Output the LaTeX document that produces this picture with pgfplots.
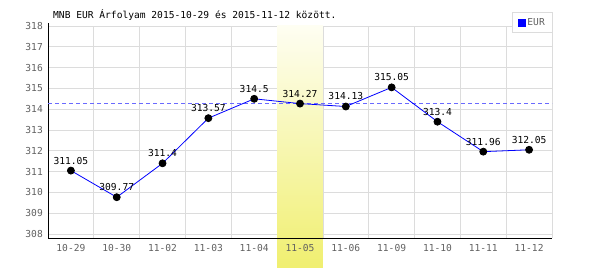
\documentclass[border=0pt]{standalone}
\usepackage{pgfplots}
\pgfplotsset{compat=1.18}
\usepackage{pgfplotstable}
\usepackage{fontspec}
\setmainfont{DejaVu Sans Mono}
\definecolor{gridc}{HTML}{DCDCDC}
\definecolor{tickc}{HTML}{606060}
\definecolor{bandtop}{HTML}{FEFEF2}
\definecolor{bandbot}{HTML}{F0EF70}
\definecolor{dashc}{HTML}{6A6AFF}
\definecolor{linec}{HTML}{0000FF}

\pgfplotstableread{
x y lab
0 311.05 311.05
1 309.77 309.77
2 311.4 311.4
3 313.57 313.57
4 314.5 314.5
5 314.27 314.27
6 314.13 314.13
7 315.05 315.05
8 313.4 313.4
9 311.96 311.96
10 312.05 312.05
}\data

\newcommand{\chfont}{\fontsize{9.6}{11}\selectfont}

\pgfplotsset{base/.style={
  at={(48pt,32pt)}, anchor=south west,
  scale only axis, width=504pt, height=212pt,
  xmin=-0.5, xmax=10.5, ymin=307.81, ymax=318,
  clip=false,
  axis x line*=bottom, axis y line*=left,
  axis line style={draw=none},
  xtick={0,...,10},
  minor xtick={0.5,1.5,...,10.5},
  ytick={308,...,318},
  major tick length=0pt, minor tick length=0pt,
}}

\begin{document}
\begin{tikzpicture}[x=1pt,y=1pt]
\path[use as bounding box] (0,0) rectangle (600,270);
% grid + highlight band
\begin{axis}[base,
  xticklabels={}, yticklabels={},
  xminorgrids=true, xmajorgrids=false,
  ymajorgrids=true,
  major grid style={gridc, line width=0.8pt},
  minor grid style={gridc, line width=0.8pt},
]
\fill[top color=bandtop, bottom color=bandbot] (axis cs:4.5,306.4) rectangle (axis cs:5.5,318);
\end{axis}
% labels, axis lines, data
\begin{axis}[base,
  xticklabels={10-29,10-30,11-02,11-03,11-04,11-05,11-06,11-09,11-10,11-11,11-12},
  /pgf/number format/assume math mode=true,
  yticklabel style={font=\chfont, text=tickc, inner sep=0pt, xshift=-5pt},
  xticklabel style={font=\chfont, text=tickc, inner sep=0pt, yshift=-6pt},
  title={MNB EUR Árfolyam 2015-10-29 és 2015-11-12 között.},
  title style={at={(rel axis cs:0,1)}, anchor=base west, xshift=5pt, yshift=1pt, inner sep=0pt, font=\chfont},
  legend style={at={(rel axis cs:1,1)}, anchor=north east, yshift=14pt, draw=gridc, fill=white, font=\chfont, text=tickc, inner xsep=5pt, inner ysep=4pt, row sep=0pt},
  legend cell align=left,
]
\draw[black, line width=0.9pt] (rel axis cs:0,0) -- (rel axis cs:1,0);
\draw[black, line width=0.9pt] (rel axis cs:0,0) -- (rel axis cs:0,1.015);
\addplot[dashc, line width=0.8pt, dash pattern=on 4pt off 3pt, forget plot] coordinates {(-0.5,314.27) (10.5,314.27)};
\addplot[linec, line width=0.8pt, mark=*, mark size=3.5pt, mark options={fill=black, draw=black},
  nodes near coords, point meta=explicit symbolic,
  every node near coord/.append style={font=\chfont, text=black, anchor=south, inner sep=0pt, yshift=6pt},
  legend image code/.code={\fill[linec] (0pt,-3.5pt) rectangle (7pt,3.5pt);}]
  table[x=x, y=y, meta=lab] {\data};
\addlegendentry{EUR}
\end{axis}
\end{tikzpicture}
\end{document}
